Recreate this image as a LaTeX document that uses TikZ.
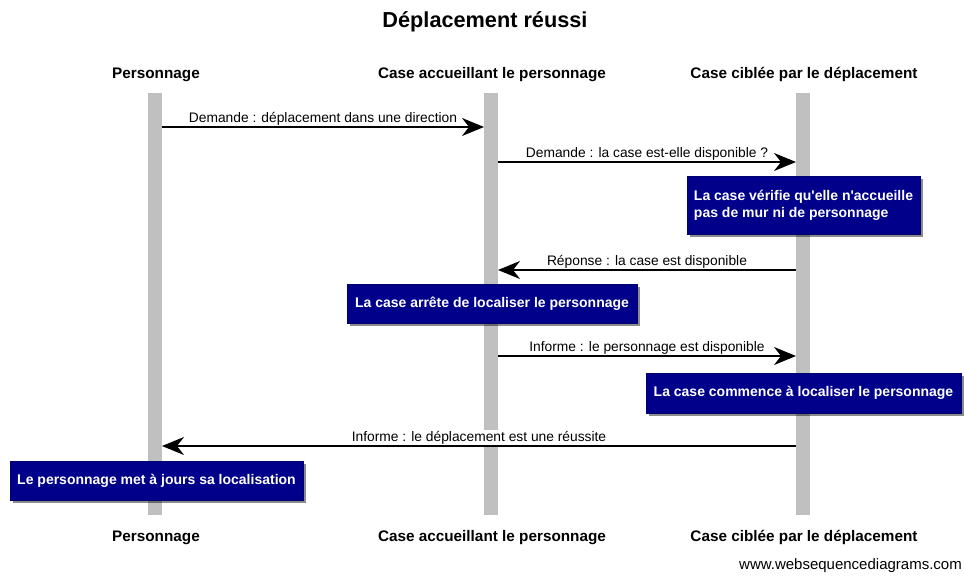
\documentclass[tikz,border=0pt]{standalone}
\usepackage{fontspec}
\setmainfont{Liberation Sans}
\usetikzlibrary{arrows.meta,shadows}
\definecolor{notefill}{RGB}{0,0,138}
\definecolor{lifegray}{RGB}{192,192,192}
% straight apostrophe, bypassing the TeX ligature mapping
\newcommand{\apos}{\XeTeXglyph\XeTeXcharglyph"0027\relax}
\begin{document}
\begin{tikzpicture}[x=1pt,y=-1pt,
  lifeline/.style={fill=lifegray, draw=none, minimum width=14pt, minimum height=422pt, inner sep=0pt},
  actor/.style={font=\fontsize{15.3}{18}\selectfont\bfseries, inner sep=0pt, anchor=base},
  msg/.style={line width=1.6pt, -{Stealth[length=22pt,width=18pt,inset=7pt]}},
  msglabel/.style={font=\fontsize{13.8}{16}\selectfont, inner sep=1pt, above},
  note/.style={fill=notefill, draw=notefill!80!black, text=white,
    font=\fontsize{14}{17}\selectfont\bfseries, inner sep=0pt, align=left,
    drop shadow={shadow xshift=3pt, shadow yshift=-3pt, fill=black, opacity=0.45}},
]
\useasboundingbox (0,0) rectangle (964,576);

% title
\node[font=\fontsize{21.7}{24}\selectfont\bfseries, anchor=base, inner sep=0pt] (title) at (485,27) {Déplacement réussi};

% lifelines
\node[lifeline] (L1) at (155,304) {};
\node[lifeline] (L2) at (491,304) {};
\node[lifeline] (L3) at (803,304) {};

% participant names, top and bottom
\node[actor] (h1t) at (156,78) {Personnage};
\node[actor] (h2t) at (492,78) {Case accueillant le personnage};
\node[actor] (h3t) at (804,78) {Case ciblée par le déplacement};
\node[actor] (h1b) at (156,541) {Personnage};
\node[actor] (h2b) at (492,541) {Case accueillant le personnage};
\node[actor] (h3b) at (804,541) {Case ciblée par le déplacement};

% message end points on the lifelines
\coordinate (m1s) at (162,127); \coordinate (m1e) at (484,127);
\coordinate (m2s) at (498,162); \coordinate (m2e) at (796,162);
\coordinate (m3s) at (796,270); \coordinate (m3e) at (498,270);
\coordinate (m4s) at (498,356); \coordinate (m4e) at (796,356);
\coordinate (m5s) at (796,446); \coordinate (m5e) at (162,446);

% messages
\draw[msg] (m1s) -- node[msglabel] (t1) {Demande : déplacement dans une direction} (m1e);
\draw[msg] (m2s) -- node[msglabel] (t2) {Demande : la case est-elle disponible ?} (m2e);
\draw[msg] (m3s) -- node[msglabel] (t3) {Réponse : la case est disponible} (m3e);
\draw[msg] (m4s) -- node[msglabel] (t4) {Informe : le personnage est disponible} (m4e);
\draw[msg] (m5s) -- node[msglabel, fill=white] (t5) {Informe : le déplacement est une réussite} (m5e);

% notes
\node[note, minimum width=233pt, minimum height=58pt] (n1) at (803.5,205)
  {La case vérifie qu\apos elle n\apos accueille\\pas de mur ni de personnage};
\node[note, minimum width=290pt, minimum height=39pt] (n2) at (492,303.5)
  {La case arrête de localiser le personnage};
\node[note, minimum width=315pt, minimum height=40pt] (n3) at (803.5,393)
  {La case commence à localiser le personnage};
\node[note, minimum width=293pt, minimum height=39pt] (n4) at (156.5,480.5)
  {Le personnage met à jours sa localisation};

% footer
\node[font=\fontsize{15}{18}\selectfont, anchor=base east, inner sep=0pt] (wsd) at (962,569) {www.websequencediagrams.com};
\end{tikzpicture}
\end{document}
